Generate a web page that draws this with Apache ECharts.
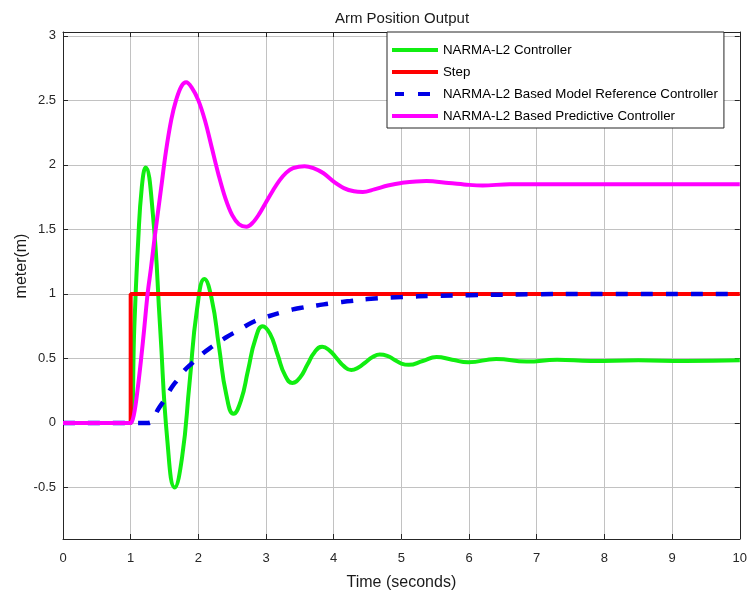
<!DOCTYPE html>
<html>
<head>
<meta charset="utf-8">
<script src="https://cdn.jsdelivr.net/npm/echarts@6/dist/echarts.min.js"></script>
<style>
html,body{margin:0;padding:0;background:#fff;}
#chart{width:750px;height:597px;}
</style>
</head>
<body>
<div id="chart"></div>
<script>
// ---- data ----
var titleText = 'Arm Position Output';
var xAxisTitle = 'Time (seconds)';
var yAxisTitle = 'meter(m)';
var seriesNames = ['NARMA-L2 Controller', 'Step', 'NARMA-L2 Based Model Reference Controller', 'NARMA-L2 Based Predictive Controller'];
var xTicks = [0, 1, 2, 3, 4, 5, 6, 7, 8, 9, 10];
var yTicks = [-0.5, 0, 0.5, 1, 1.5, 2, 2.5, 3];

var narmaT = [0, 0.95, 1.0, 1.055, 1.11, 1.165, 1.22, 1.3275, 1.435, 1.5425, 1.65, 1.76, 1.87, 1.98, 2.09, 2.1975, 2.305, 2.4125, 2.52, 2.6275, 2.735, 2.8425, 2.95, 3.06, 3.17, 3.28, 3.39, 3.5, 3.61, 3.72, 3.83, 3.94, 4.045, 4.15, 4.26, 4.365, 4.47, 4.575, 4.68, 4.79, 4.895, 5.0, 5.11, 5.315, 5.52, 5.75, 5.99, 6.4, 6.85, 7.3, 7.8, 8.5, 9.2, 10];
var narmaV = [0, 0, 0, 0.76, 1.40, 1.83, 1.98, 1.62, 0.74, -0.14, -0.5, -0.264, 0.31, 0.88, 1.115, 0.96, 0.59, 0.22, 0.07, 0.17, 0.41, 0.65, 0.75, 0.69, 0.53, 0.37, 0.31, 0.35, 0.45, 0.55, 0.59, 0.56, 0.50, 0.44, 0.41, 0.43, 0.47, 0.51, 0.53, 0.52, 0.49, 0.46, 0.45, 0.48, 0.51, 0.49, 0.47, 0.495, 0.475, 0.49, 0.48, 0.485, 0.48, 0.485];

var stepT = [0, 1, 1, 10];
var stepV = [0, 0, 1, 1];

var mrefT = [0, 1.0, 1.25, 1.3, 1.4, 1.5, 1.6, 1.7, 1.8, 1.9, 2.0, 2.2, 2.4, 2.6, 2.8, 3.0, 3.25, 3.5, 3.75, 4.0, 4.25, 4.5, 5.0, 5.5, 6.0, 7.0, 8.0, 10];
var mrefV = [0, 0, 0, 0.005, 0.1, 0.18, 0.27, 0.34, 0.41, 0.46, 0.51, 0.59, 0.66, 0.72, 0.78, 0.82, 0.86, 0.89, 0.91, 0.93, 0.945, 0.96, 0.975, 0.985, 0.99, 0.997, 1.0, 1.0];

var predT = [0, 0.95, 1.0, 1.05, 1.1, 1.155, 1.2, 1.25, 1.3, 1.35, 1.45, 1.52, 1.6, 1.67, 1.75, 1.82, 1.9, 2.0, 2.1, 2.2, 2.3, 2.4, 2.5, 2.6, 2.71, 2.8, 2.9, 3.0, 3.1, 3.2, 3.3, 3.4, 3.57, 3.7, 3.85, 4.0, 4.15, 4.3, 4.43, 4.6, 4.8, 5.0, 5.37, 5.7, 6.0, 6.2, 6.6, 7.0, 8.0, 10];
var predV = [0, 0, 0, 0.07, 0.25, 0.5, 0.73, 1.0, 1.2, 1.42, 1.82, 2.1, 2.35, 2.5, 2.61, 2.64, 2.6, 2.5, 2.34, 2.13, 1.92, 1.74, 1.61, 1.54, 1.52, 1.55, 1.62, 1.71, 1.80, 1.88, 1.94, 1.975, 1.99, 1.975, 1.935, 1.87, 1.82, 1.795, 1.79, 1.81, 1.84, 1.86, 1.875, 1.86, 1.845, 1.84, 1.85, 1.85, 1.85, 1.85];

function pairs(t, v) { return t.map(function (x, i) { return [x, v[i]]; }); }

var FONT = 'Liberation Sans, Arial, sans-serif';
var chart = echarts.init(document.getElementById('chart'), null, { renderer: 'canvas' });

var yLabelSet = {};
yTicks.forEach(function (v) { yLabelSet[v.toFixed(2)] = true; });
var xLabelSet = {};
xTicks.forEach(function (v) { xLabelSet[v.toFixed(2)] = true; });

var axisColor = '#262626';
var gridColor = '#c2c2c2';
var ICON_SOLID = 'path://M0,0H46V4H0Z';
var ICON_DASH = 'path://M0,0H0.01V0.01H0Z M3,0H12V4H3Z M26,0H38V4H26Z M45.99,0H46V0.01H45.99Z';

chart.setOption({
  animation: false,
  backgroundColor: '#ffffff',
  title: {
    text: titleText,
    left: 402,
    top: 11,
    padding: 0,
    textAlign: 'center',
    textStyle: { fontFamily: FONT, fontSize: 15, fontWeight: 'normal', color: '#1a1a1a' }
  },
  grid: { left: 63, right: 9, top: 32, bottom: 58, containLabel: false },
  legend: {
    orient: 'vertical',
    left: 387,
    top: 32,
    itemWidth: 46,
    itemHeight: 4,
    itemGap: 8,
    padding: [11, 6, 5, 5],
    borderColor: '#262626',
    borderWidth: 1,
    borderRadius: 0,
    backgroundColor: '#ffffff',
    textStyle: { fontFamily: FONT, fontSize: 13.3, color: '#000', lineHeight: 14 },
    data: [
      { name: seriesNames[0], icon: ICON_SOLID },
      { name: seriesNames[1], icon: ICON_SOLID },
      { name: seriesNames[2], icon: ICON_DASH },
      { name: seriesNames[3], icon: ICON_SOLID }
    ]
  },
  xAxis: [{
    type: 'value', min: 0, max: 10, interval: 1, position: 'bottom',
    name: xAxisTitle, nameLocation: 'middle', nameGap: 36,
    nameTextStyle: { fontFamily: FONT, fontSize: 16, color: '#1a1a1a' },
    axisLine: { show: true, onZero: false, lineStyle: { color: axisColor, width: 1 } },
    axisTick: { show: true, inside: true, length: 5, lineStyle: { color: axisColor } },
    axisLabel: { margin: 13, fontFamily: FONT, fontSize: 13, color: '#262626',
      formatter: function (v) { return xLabelSet[Number(v).toFixed(2)] ? String(v) : ''; } },
    splitLine: { show: true, lineStyle: { color: gridColor, width: 1 } }
  }, {
    type: 'value', min: 0, max: 10, interval: 1, position: 'top',
    axisLine: { show: true, onZero: false, lineStyle: { color: axisColor, width: 1 } },
    axisTick: { show: true, inside: true, length: 5, lineStyle: { color: axisColor } },
    axisLabel: { show: false },
    splitLine: { show: false }
  }],
  yAxis: [{
    type: 'value', min: -0.9, max: 3.03, minInterval: 0.5, maxInterval: 0.5, splitNumber: 8, position: 'left',
    axisLine: { show: true, onZero: false, lineStyle: { color: axisColor, width: 1 } },
    axisTick: { show: true, inside: true, length: 5, lineStyle: { color: axisColor } },
    axisLabel: { margin: 7, fontFamily: FONT, fontSize: 13, color: '#262626',
      formatter: function (v) { return yLabelSet[Number(v).toFixed(2)] ? String(v) : ''; } },
    splitLine: { show: true, lineStyle: { color: gridColor, width: 1 } }
  }, {
    type: 'value', min: -0.9, max: 3.03, minInterval: 0.5, maxInterval: 0.5, splitNumber: 8, position: 'right',
    axisLine: { show: true, onZero: false, lineStyle: { color: axisColor, width: 1 } },
    axisTick: { show: true, inside: true, length: 5, lineStyle: { color: axisColor } },
    axisLabel: { show: false },
    splitLine: { show: false }
  }],
  graphic: [{
    type: 'text',
    x: 22, y: 266, rotation: Math.PI / 2,
    style: { text: yAxisTitle, x: 0, y: 0, textAlign: 'center', textVerticalAlign: 'middle',
      fontFamily: FONT, fontSize: 16, fill: '#1a1a1a' }
  }],
  series: [{
    name: seriesNames[0], type: 'line', data: pairs(narmaT, narmaV),
    smooth: 0.5, showSymbol: false, symbol: 'none',
    lineStyle: { color: '#11ee11', width: 4 }, itemStyle: { color: '#11ee11' }, z: 2
  }, {
    name: seriesNames[1], type: 'line', data: pairs(stepT, stepV),
    smooth: false, showSymbol: false, symbol: 'none',
    lineStyle: { color: '#ff0000', width: 4 }, itemStyle: { color: '#ff0000' }, z: 3
  }, {
    name: seriesNames[2], type: 'line', data: pairs(mrefT, mrefV),
    smooth: 0.5, showSymbol: false, symbol: 'none',
    lineStyle: { color: '#0000e6', width: 4.5, type: [12, 13] }, itemStyle: { color: '#0000e6' }, z: 4
  }, {
    name: seriesNames[3], type: 'line', data: pairs(predT, predV),
    smooth: 0.35, showSymbol: false, symbol: 'none',
    lineStyle: { color: '#ff00ff', width: 4 }, itemStyle: { color: '#ff00ff' }, z: 5
  }]
});
</script>
</body>
</html>
